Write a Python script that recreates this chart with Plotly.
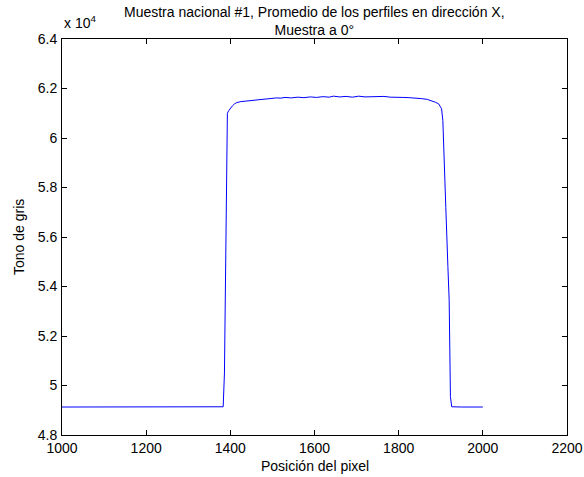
import plotly.graph_objects as go

# Position (pixel) and grey tone values
pos = [1000, 1100, 1200, 1300, 1383, 1386, 1388, 1390, 1391, 1393, 1396, 1400, 1405,
       1410, 1415, 1425, 1440, 1455, 1470, 1487, 1500, 1510, 1520, 1530, 1545, 1560,
       1575, 1590, 1605, 1620, 1635, 1645, 1660, 1675, 1690, 1705, 1720, 1735, 1750,
       1765, 1780, 1795, 1810, 1825, 1840, 1855, 1868, 1880, 1888, 1895, 1898, 1902,
       1905, 1907, 1912, 1917, 1920, 1923, 1926, 1950, 1980, 2000]
tono = [49130, 49130, 49130, 49130, 49140, 50500, 54000, 58500, 59900, 61000, 61100,
        61200, 61300, 61380, 61430, 61470, 61500, 61540, 61560, 61590, 61600, 61620,
        61610, 61640, 61620, 61650, 61630, 61660, 61640, 61670, 61650, 61690, 61660,
        61680, 61650, 61690, 61660, 61670, 61650, 61680, 61650, 61660, 61640, 61630,
        61620, 61590, 61560, 61500, 61440, 61380, 61300, 61180, 60700, 59400, 57200,
        54800, 53450, 49550, 49140, 49130, 49130, 49130]

x_ticks = [1000, 1200, 1400, 1600, 1800, 2000, 2200]
y_ticks = [48000, 50000, 52000, 54000, 56000, 58000, 60000, 62000, 64000]
y_labels = ["4.8", "5", "5.2", "5.4", "5.6", "5.8", "6", "6.2", "6.4"]

font = "Liberation Sans, Arial, Helvetica, sans-serif"
tfont = dict(family=font, size=14, color="black")

fig = go.Figure()
fig.add_trace(go.Scatter(x=pos, y=tono, mode="lines",
                         line=dict(color="#0000ff", width=1), showlegend=False))

axis_common = dict(showline=True, linecolor="black", linewidth=1, mirror="ticks",
                   ticks="inside", ticklen=5, tickcolor="black", showgrid=False,
                   zeroline=False, automargin=False, tickfont=tfont)

fig.update_xaxes(range=[1000, 2200], tickvals=x_ticks, ticklabelstandoff=0, **axis_common)
fig.update_yaxes(range=[48000, 64000], tickvals=y_ticks, ticktext=y_labels,
                 ticklabelstandoff=1, **axis_common)

fig.update_layout(
    width=584, height=477,
    margin=dict(l=62, r=17, t=39, b=42),
    paper_bgcolor="white", plot_bgcolor="white",
    annotations=[
        dict(text="Muestra nacional #1, Promedio de los perfiles en dirección X,<br>Muestra a 0°",
             xref="paper", yref="paper", x=0.5, y=1, xanchor="center", yanchor="bottom",
             yshift=-1, showarrow=False, font=tfont),
        dict(text="x 10<sup>4</sup>", xref="paper", yref="paper",
             x=0, y=1, xanchor="left", yanchor="bottom", yshift=6,
             showarrow=False, font=tfont),
        dict(text="Posición del pixel", xref="paper", yref="paper", x=0.5, y=0,
             xanchor="center", yanchor="top", yshift=-21, showarrow=False, font=tfont),
        dict(text="Tono de gris", xref="paper", yref="paper", x=0, y=0.5,
             xanchor="center", yanchor="middle", xshift=-43, textangle=-90,
             showarrow=False, font=tfont),
    ],
)

fig.write_html("out.html")
